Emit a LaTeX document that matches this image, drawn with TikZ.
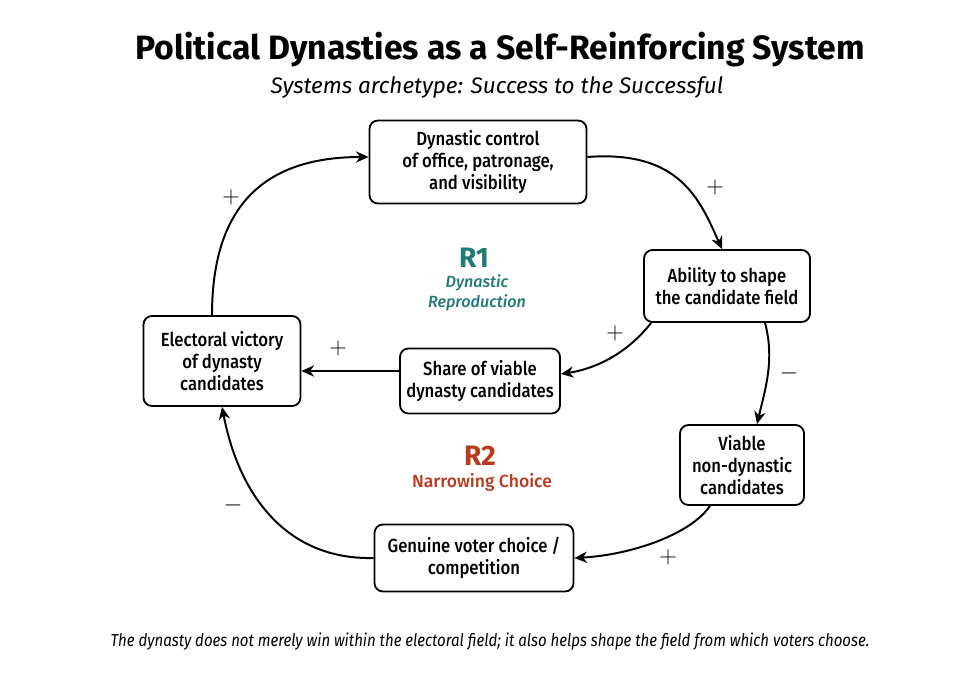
\documentclass[tikz,border=0pt]{standalone}
\usepackage{fontspec}
\setmainfont{Fira Sans}
\newfontfamily\condfont{Fira Sans}[FakeStretch=0.86]
\newfontfamily\medfont{Fira Sans Medium}
\newfontfamily\boxfont{Fira Sans Medium}[FakeStretch=0.88]
\usepackage{tikz}
\usetikzlibrary{arrows.meta}

\definecolor{rteal}{HTML}{1F7A78}
\definecolor{rred}{HTML}{B8391C}

\begin{document}
\begin{tikzpicture}[x=0.025cm,y=-0.025cm,
    box/.style={draw,line width=1.3pt,rounded corners=6pt,align=center,
                font=\fontsize{13.5}{15.6}\selectfont\boxfont,inner sep=0pt},
    link/.style={line width=1.4pt,-{Stealth[length=9pt,width=8pt]}},
    pol/.style={font=\fontsize{16}{16}\selectfont}]
    \useasboundingbox (0,0) rectangle (980,683);

    \node[font=\fontsize{24}{24}\selectfont\bfseries] (title) at (500,50) {Political Dynasties as a Self-Reinforcing System};
    \node[font=\fontsize{16}{16}\selectfont\itshape] (sub) at (497,87) {Systems archetype: Success to the Successful};

    \node[box,minimum width=217*0.025cm,minimum height=83*0.025cm] (ctrl) at (478,162)
        {Dynastic control\\of office, patronage,\\and visibility};
    \node[box,minimum width=166*0.025cm,minimum height=72*0.025cm] (shape) at (727,286)
        {Ability to shape\\the candidate field};
    \node[box,minimum width=124*0.025cm,minimum height=80*0.025cm] (viable) at (742,465)
        {Viable\\non-dynastic\\candidates};
    \node[box,minimum width=199*0.025cm,minimum height=67*0.025cm] (choice) at (474,558)
        {Genuine voter choice /\\competition};
    \node[box,minimum width=157*0.025cm,minimum height=90*0.025cm] (win) at (222,361)
        {Electoral victory\\of dynasty\\candidates};
    \node[box,minimum width=160*0.025cm,minimum height=65*0.025cm] (share) at (480,381)
        {Share of viable\\dynasty candidates};

    \node[text=rteal,font=\fontsize{20}{20}\selectfont\bfseries] (r1) at (474,258) {R1};
    \node[text=rteal,font=\fontsize{11.5}{14.5}\selectfont\medfont\itshape,align=center] (r1t) at (477,293) {Dynastic\\Reproduction};
    \node[text=rred,font=\fontsize{20}{20}\selectfont\bfseries] (r2) at (480,456) {R2};
    \node[text=rred,font=\fontsize{12.5}{12.5}\selectfont\medfont] (r2t) at (482,482) {Narrowing Choice};

    % loop links
    \draw[link] (win.north -| 212,0) .. controls (212,200) and (270,157) .. (ctrl.west |- 0,157);
    \draw[link] (ctrl.east |- 0,157) .. controls (680,150) and (700,200) .. (shape.north -| 722,0);
    \draw[link] (shape.south west) ++(8,0) .. controls (630,350) and (600,368) .. (share.east |- 0,374);
    \draw[link] (shape.south -| 765,0) .. controls (775,360) and (765,390) .. (viable.north -| 757,0);
    \draw[link] (viable.south -| 710,0) .. controls (690,535) and (630,555) .. (choice.east);
    \draw[link] (choice.west) .. controls (290,560) and (240,500) .. (win.south);
    \draw[link] (share.west |- 0,371) -- (win.east |- 0,371);

    \node[pol] (p1) at (231,197) {$+$};
    \node[pol] (p2) at (715,187) {$+$};
    \node[pol] (p3) at (615,333) {$+$};
    \node[pol] (p4) at (789,373) {$-$};
    \node[pol] (p5) at (668,557) {$+$};
    \node[pol] (p6) at (233,505) {$-$};
    \node[pol] (p7) at (338,348) {$+$};

    \node[font=\fontsize{12.4}{12.4}\selectfont\condfont\itshape] (foot) at (490,642)
        {The dynasty does not merely win within the electoral field; it also helps shape the field from which voters choose.};
\end{tikzpicture}
\end{document}
